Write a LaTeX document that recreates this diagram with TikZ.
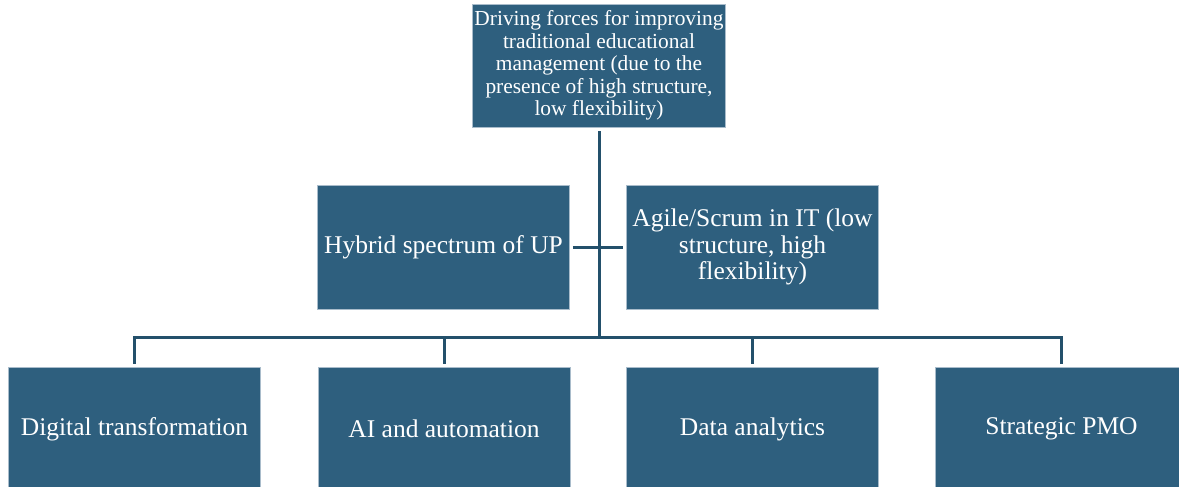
\documentclass[tikz,border=0pt]{standalone}
\usepackage{fontspec}
\setmainfont{Liberation Serif}
\definecolor{boxfill}{HTML}{2E5F7E}
\definecolor{boxline}{HTML}{A9BCCB}
\definecolor{conncol}{HTML}{23506B}
\tikzset{
  box/.style={draw=boxline, line width=0.8pt, fill=boxfill, text=white,
    minimum width=252pt, inner sep=2pt, align=center},
  topbox/.style={box, minimum height=123pt, font=\fontsize{21.4}{22.4}\selectfont},
  midbox/.style={box, minimum height=124pt, font=\fontsize{25.5}{26.2}\selectfont},
  botbox/.style={box, minimum height=124pt, font=\fontsize{25.5}{26.2}\selectfont},
  conn/.style={draw=conncol, line width=3pt, line join=miter}
}
\begin{document}
\begin{tikzpicture}[x=1pt,y=-1pt]
\useasboundingbox (0,0) rectangle (1179,487);
\fill[white] (0,0) rectangle (1179,487);
\node[topbox] (top) at (599,65.5) {Driving forces for improving\\traditional educational\\management (due to the\\presence of high structure,\\low flexibility)};
\node[midbox] (hyb) at (443.5,247) {Hybrid spectrum of UP};
\node[midbox] (agi) at (752.5,247) {Agile/Scrum in IT (low\\structure, high\\flexibility)};
\node[botbox] (b1) at (134.5,429) {Digital transformation};
\node[botbox] (b2) at (444,429) {AI and automation};
\node[botbox] (b3) at (752.5,429) {Data analytics};
\node[botbox] (b4) at (1061.5,429) {Strategic PMO};
\coordinate (bus) at (599,337.5);
\draw[conn, shorten <=4pt] (top.south) -- (top.south |- bus);
\draw[conn, shorten <=3pt, shorten >=3pt] (hyb.east) -- (agi.west);
\draw[conn, shorten <=3pt, shorten >=3pt] (b1.north) -- (b1.north |- bus) -| (b4.north);
\draw[conn, shorten <=3pt] (b2.north) -- (b2.north |- bus);
\draw[conn, shorten <=3pt] (b3.north) -- (b3.north |- bus);
\end{tikzpicture}
\end{document}
